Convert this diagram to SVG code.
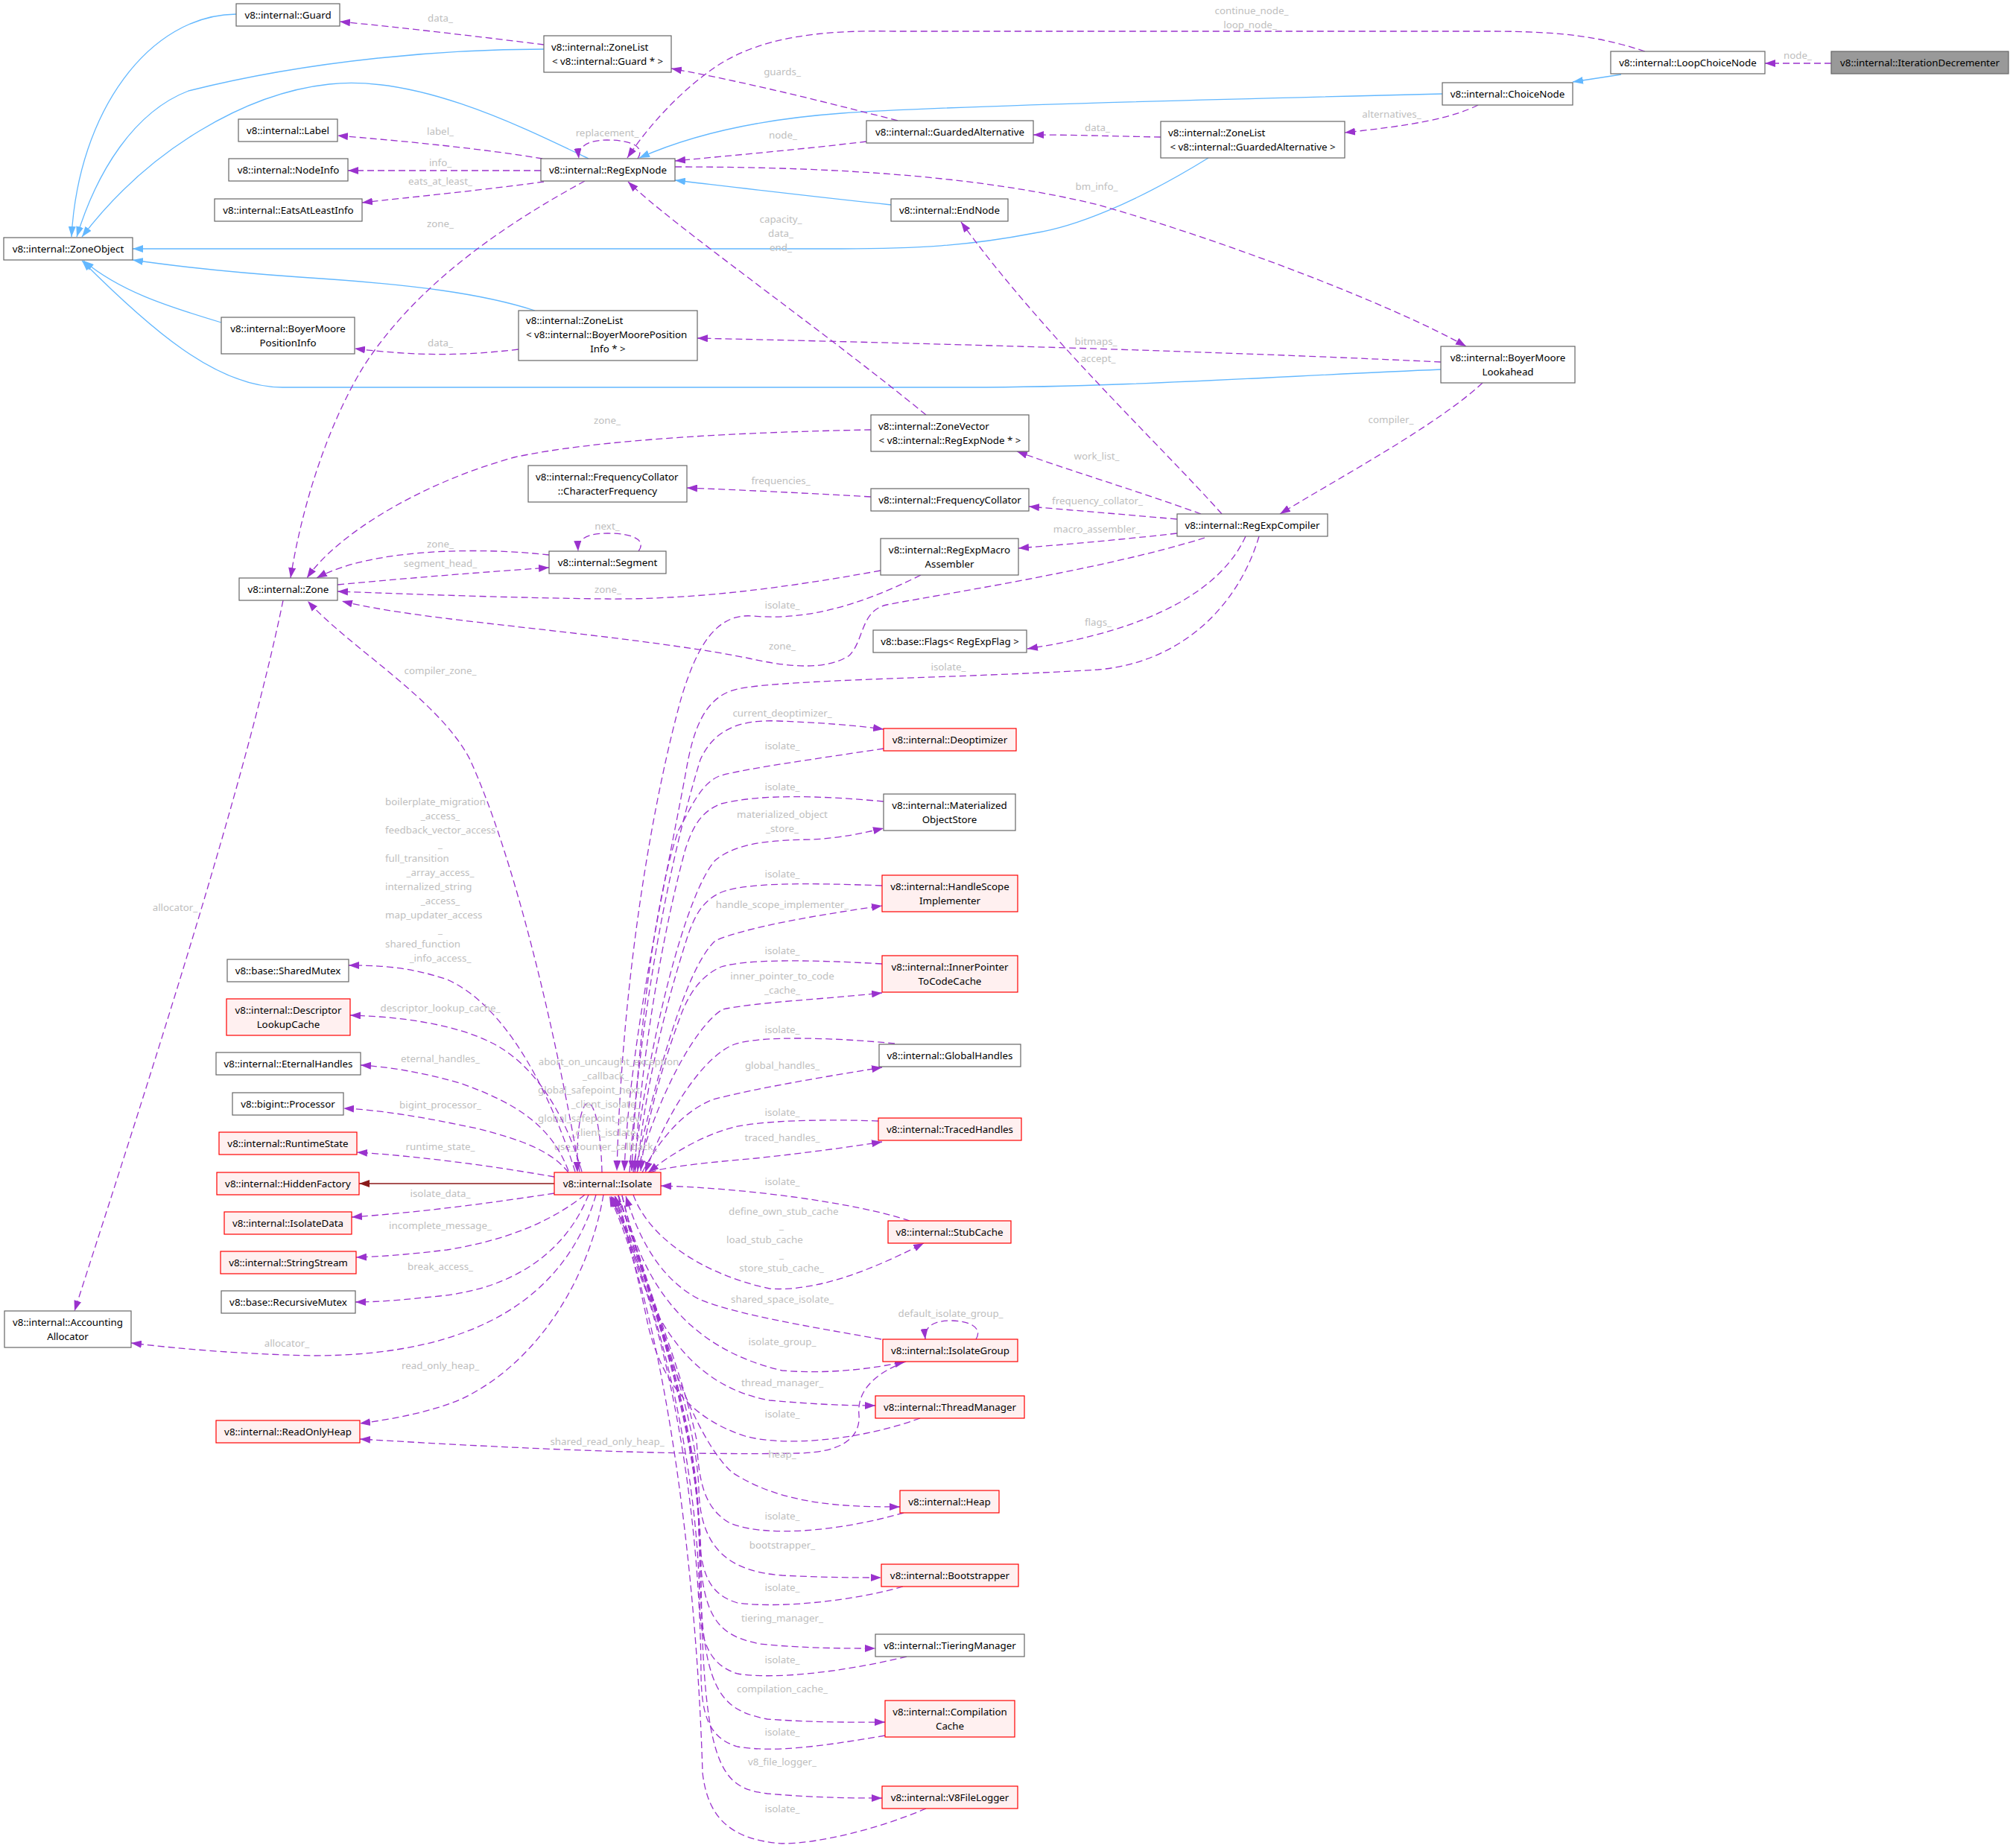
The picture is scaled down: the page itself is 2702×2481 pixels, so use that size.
<svg xmlns="http://www.w3.org/2000/svg" width="2702" height="2481" viewBox="0 0 2702 2481">
<style>
text{font-family:"Noto Sans","Liberation Sans",sans-serif;font-size:13.33px}
.n rect{fill:#ffffff;stroke:#666666;stroke-width:1.2}
.r rect{fill:#fff0f0;stroke:#ff0000;stroke-width:1.2}
.g rect{fill:#999999;stroke:#666666;stroke-width:1.2}
.n text,.r text,.g text{fill:#000000}
.c{text-anchor:middle}
.l{fill:#bebebe;text-anchor:middle}
.ll{fill:#bebebe;text-anchor:start}
.e{fill:none;stroke:#9a32cd;stroke-width:1.3;stroke-dasharray:9,5;marker-end:url(#ap)}
.i{fill:none;stroke:#63b8ff;stroke-width:1.3;marker-end:url(#ab)}
.d{fill:none;stroke:#8b1a1a;stroke-width:1.3;marker-end:url(#ad)}
</style>
<defs>
<marker id="ap" markerUnits="userSpaceOnUse" markerWidth="14" markerHeight="10" refX="14" refY="5" orient="auto"><path d="M0,0 L14,5 L0,10 z" fill="#9a32cd"/></marker>
<marker id="ab" markerUnits="userSpaceOnUse" markerWidth="14" markerHeight="10" refX="14" refY="5" orient="auto"><path d="M0,0 L14,5 L0,10 z" fill="#63b8ff"/></marker>
<marker id="ad" markerUnits="userSpaceOnUse" markerWidth="14" markerHeight="10" refX="14" refY="5" orient="auto"><path d="M0,0 L14,5 L0,10 z" fill="#8b1a1a"/></marker>
</defs>
<rect width="2702" height="2481" fill="#ffffff"/>
<g id="connectors">
<path class="i" d="M317,19 C200,20 105,150 96,318"/>
<path class="i" d="M730,66 C600,66 420,80 253,122 C180,150 130,230 103,318"/>
<path class="i" d="M790,213 C700,170 560,100 442,113 C330,125 200,200 110,318"/>
<path class="i" d="M1196,275 C1100,265 1000,253 906,242"/>
<path class="i" d="M1936,126 C1600,134 1250,143 1130,152 C1020,160 930,180 858,212"/>
<path class="i" d="M2176,100 L2111,110"/>
<path class="i" d="M1622,212 C1520,275 1440,305 1388,313 C1300,330 1230,334 1130,334 L178,334"/>
<path class="i" d="M718,417 C650,395 560,382 402,372 C300,365 240,358 178,349"/>
<path class="i" d="M297,433 C220,410 160,390 112,350"/>
<path class="i" d="M1934,496 C1700,506 1500,520 1300,520 L379,520 C290,520 200,440 110,350"/>
<path class="d" d="M744,1589 L482,1589"/>

<path class="e" d="M730,60 C650,50 540,37 456,29"/>
<text class="l" x="591" y="28.5">data_</text>
<path class="e" d="M1205,162 C1100,135 1000,110 901,92"/>
<text class="l" x="1050" y="100.5">guards_</text>
<path class="e" d="M728,213 C650,200 550,190 453,182"/>
<text class="l" x="591" y="180.5">label_</text>
<path class="e" d="M726,229 L467,229"/>
<text class="l" x="591" y="222.5">info_</text>
<path class="e" d="M730,244 C650,255 550,265 486,272"/>
<text class="l" x="591" y="247.5">eats_at_least_</text>
<path class="e" d="M856,213 C866,198 850,188 815,188 C790,188 775,196 777,213"/>
<text class="l" x="815" y="182.5">replacement_</text>
<path class="e" d="M2208,69 C2150,50 2100,42 2000,42 L1200,42 C1100,40 1020,50 960,90 C910,125 870,170 842,212"/>
<text class="l" x="1680" y="18.5">continue_node_</text>
<text class="l" x="1678" y="37.5">loop_node_</text>
<path class="e" d="M1163,190 C1080,200 990,208 906,216"/>
<text class="l" x="1051" y="185.5">node_</text>
<path class="e" d="M1558,184 C1500,183 1440,181 1387,181"/>
<text class="l" x="1473" y="175.5">data_</text>
<path class="e" d="M1984,141 C1950,158 1900,168 1805,178"/>
<text class="l" x="1868" y="157.5">alternatives_</text>
<path class="e" d="M2458,85 L2369,85"/>
<text class="l" x="2413" y="78.5">node_</text>
<path class="e" d="M906,224 C1150,224 1330,240 1474,275 C1650,325 1870,410 1968,465"/>
<text class="l" x="1472" y="254.5">bm_info_</text>
<path class="e" d="M785,243 C680,300 560,380 488,492 C440,570 405,680 390,776"/>
<text class="l" x="591" y="304.5">zone_</text>
<path class="e" d="M696,469 C620,478 560,478 476,468"/>
<text class="l" x="591" y="464.5">data_</text>
<path class="e" d="M1934,486 C1600,470 1200,460 936,454"/>
<text class="l" x="1471" y="462.5">bitmaps_</text>
<path class="e" d="M1990,514 C1930,570 1800,640 1718,690"/>
<text class="l" x="1867" y="567.5">compiler_</text>
<path class="e" d="M1243,557 C1100,440 900,300 843,244"/>
<text class="l" x="1048" y="298.5">capacity_</text>
<text class="l" x="1048" y="317.5">data_</text>
<text class="l" x="1048" y="336.5">end_</text>
<path class="e" d="M1640,690 C1560,600 1400,450 1290,298"/>
<text class="l" x="1474" y="485.5">accept_</text>
<path class="e" d="M1169,577 C1000,580 800,590 690,614 C560,650 450,720 412,776"/>
<text class="l" x="815" y="568.5">zone_</text>
<path class="e" d="M1612,690 C1530,660 1430,630 1365,606"/>
<text class="l" x="1472" y="616.5">work_list_</text>
<path class="e" d="M1169,667 C1080,662 1000,658 922,655"/>
<text class="l" x="1048" y="649.5">frequencies_</text>
<path class="e" d="M1580,697 C1500,690 1440,685 1381,680"/>
<text class="l" x="1473" y="676.5">frequency_collator_</text>
<path class="e" d="M1580,716 C1500,725 1440,730 1367,736"/>
<text class="l" x="1472" y="714.5">macro_assembler_</text>
<path class="e" d="M737,745 C650,735 500,735 425,776"/>
<text class="l" x="591" y="734.5">zone_</text>
<path class="e" d="M453,785 C560,775 650,768 737,762"/>
<text class="l" x="591" y="760.5">segment_head_</text>
<path class="e" d="M857,740 C868,725 850,716 816,716 C790,716 775,722 776,740"/>
<text class="l" x="815" y="710.5">next_</text>
<path class="e" d="M1182,766 C1050,790 930,805 815,804 C700,803 560,798 453,794"/>
<text class="l" x="816" y="795.5">zone_</text>
<path class="e" d="M1617,722 C1480,765 1250,800 1190,812 C1155,820 1160,860 1140,880 C1110,900 1060,896 1006,884 C900,862 700,843 597,830 C540,823 490,815 459,807"/>
<text class="l" x="1050" y="871.5">zone_</text>
<path class="e" d="M1672,720 C1640,790 1550,845 1379,871"/>
<text class="l" x="1474" y="839.5">flags_</text>
<path class="e" d="M1690,720 C1660,820 1580,890 1474,899 C1300,910 1050,912 990,925 C945,935 930,980 920,1040 C890,1200 845,1400 838,1572"/>
<text class="l" x="1273" y="899.5">isolate_</text>
<path class="e" d="M1236,772 C1150,815 1080,833 1010,827 C960,823 935,870 915,935 C880,1060 835,1300 828,1572"/>
<text class="l" x="1050" y="816.5">isolate_</text>
<path class="e" d="M380,806 C330,1050 200,1450 100,1760"/>
<text class="l" x="235" y="1222.5">allocator_</text>

<path class="e" d="M845,1574 C860,1350 900,1150 940,1020 C960,975 1000,966 1045,968 C1100,970 1150,974 1186,979"/>
<text class="l" x="1050" y="961.5">current_deoptimizer_</text>
<path class="e" d="M1186,1005 C1100,1018 1000,1032 968,1041 C940,1050 925,1090 911,1114 C880,1200 855,1400 848,1572"/>
<text class="l" x="1050" y="1005.5">isolate_</text>
<path class="e" d="M1186,1076 C1100,1068 1020,1066 968,1079 C940,1090 930,1110 920,1140 C890,1250 860,1420 852,1572"/>
<text class="l" x="1050" y="1060.5">isolate_</text>
<path class="e" d="M850,1574 C870,1400 920,1200 960,1155 C990,1130 1040,1128 1090,1127 C1130,1125 1160,1118 1186,1112"/>
<text class="l" x="1050" y="1097.5">materialized_object</text>
<text class="l" x="1050" y="1116.5">_store_</text>
<path class="e" d="M1184,1189 C1080,1185 1000,1185 968,1198 C940,1210 930,1236 922,1260 C890,1360 862,1480 856,1572"/>
<text class="l" x="1050" y="1177.5">isolate_</text>
<path class="e" d="M852,1574 C880,1450 920,1300 960,1263 C1000,1245 1100,1228 1184,1216"/>
<text class="l" x="1050" y="1218.5">handle_scope_implementer_</text>
<path class="e" d="M1184,1294 C1080,1288 1000,1288 968,1298 C940,1310 925,1335 915,1360 C885,1440 865,1520 860,1572"/>
<text class="l" x="1050" y="1280.5">isolate_</text>
<path class="e" d="M855,1574 C880,1480 930,1380 970,1355 C1020,1345 1100,1342 1184,1333"/>
<text class="l" x="1050" y="1314.5">inner_pointer_to_code</text>
<text class="l" x="1050" y="1333.5">_cache_</text>
<path class="e" d="M1201,1401 C1120,1393 1020,1390 986,1402 C950,1415 900,1480 866,1574"/>
<text class="l" x="1050" y="1386.5">isolate_</text>
<path class="e" d="M862,1574 C880,1540 910,1495 957,1476 C1020,1460 1110,1445 1184,1433"/>
<text class="l" x="1050" y="1434.5">global_handles_</text>
<path class="e" d="M1179,1505 C1100,1502 1020,1505 986,1513 C940,1525 900,1550 870,1574"/>
<text class="l" x="1050" y="1497.5">isolate_</text>
<path class="e" d="M872,1574 C900,1565 960,1560 1015,1555 C1080,1548 1140,1540 1184,1533"/>
<text class="l" x="1050" y="1531.5">traced_handles_</text>
<path class="e" d="M1221,1639 C1150,1615 1000,1595 887,1592"/>
<text class="l" x="1050" y="1590.5">isolate_</text>
<path class="e" d="M850,1604 C870,1660 940,1710 1033,1730 C1100,1735 1180,1700 1240,1669"/>
<text class="ll" x="978" y="1630.5">define_own_stub_cache</text>
<text class="l" x="1049" y="1649.5">_</text>
<text class="ll" x="975" y="1668.5">load_stub_cache</text>
<text class="l" x="1049" y="1688.5">_</text>
<text class="l" x="1049" y="1706.5">store_stub_cache_</text>
<path class="e" d="M1183,1798 C1080,1780 990,1765 940,1745 C890,1720 860,1670 840,1606"/>
<text class="l" x="1050" y="1748.5">shared_space_isolate_</text>
<path class="e" d="M835,1605 C860,1720 920,1810 1050,1840 C1110,1845 1170,1838 1215,1828"/>
<text class="l" x="1050" y="1805.5">isolate_group_</text>
<path class="e" d="M1310,1798 C1320,1782 1300,1773 1276,1773 C1255,1773 1240,1780 1242,1798"/>
<text class="l" x="1276" y="1767.5">default_isolate_group_</text>
<path class="e" d="M1216,1828 C1170,1845 1150,1870 1153,1900 C1155,1930 1130,1950 1072,1951 C900,1954 700,1945 483,1932"/>
<text class="l" x="815" y="1939.5">shared_read_only_heap_</text>
<path class="e" d="M830,1605 C860,1760 920,1860 1033,1880 C1090,1885 1130,1887 1175,1887"/>
<text class="l" x="1050" y="1860.5">thread_manager_</text>
<path class="e" d="M1235,1904 C1150,1935 1050,1942 1000,1928 C930,1905 890,1860 870,1780 C858,1720 840,1650 826,1606"/>
<text class="l" x="1050" y="1902.5">isolate_</text>
<path class="e" d="M835,1605 C880,1780 930,1930 983,1977 C1050,2020 1130,2023 1208,2023"/>
<text class="l" x="1050" y="1956.5">heap_</text>
<path class="e" d="M1213,2031 C1130,2055 1030,2065 980,2045 C945,2025 938,1990 935,1933 C920,1860 880,1750 825,1606"/>
<text class="l" x="1050" y="2039.5">isolate_</text>
<path class="e" d="M830,1605 C880,1760 935,1900 938,2000 C940,2080 980,2110 1050,2115 C1110,2118 1150,2118 1183,2118"/>
<text class="l" x="1050" y="2078.5">bootstrapper_</text>
<path class="e" d="M1212,2130 C1150,2148 1050,2160 990,2152 C950,2140 940,2110 938,2050 C937,1960 890,1760 822,1606"/>
<text class="l" x="1050" y="2135.5">isolate_</text>
<path class="e" d="M830,1605 C885,1770 937,1920 938,2050 C940,2170 960,2195 1020,2207 C1080,2213 1130,2213 1175,2213"/>
<text class="l" x="1050" y="2176.5">tiering_manager_</text>
<path class="e" d="M1217,2224 C1130,2245 1040,2255 990,2247 C950,2235 940,2200 939,2150 C937,1980 890,1760 820,1606"/>
<text class="l" x="1050" y="2232.5">isolate_</text>
<path class="e" d="M830,1605 C885,1770 938,1930 939,2080 C940,2270 965,2295 1030,2308 C1100,2313 1150,2312 1188,2312"/>
<text class="l" x="1050" y="2271.5">compilation_cache_</text>
<path class="e" d="M1188,2330 C1100,2345 1040,2353 990,2345 C950,2333 942,2300 941,2250 C940,2000 890,1760 820,1606"/>
<text class="l" x="1050" y="2329.5">isolate_</text>
<path class="e" d="M830,1605 C888,1770 940,1930 941,2100 C942,2380 970,2400 1030,2408 C1100,2414 1150,2414 1184,2414"/>
<text class="l" x="1050" y="2369.5">v8_file_logger_</text>
<path class="e" d="M1243,2428 C1180,2455 1100,2475 1050,2475 C980,2470 950,2440 943,2380 C935,2100 890,1760 818,1606"/>
<text class="l" x="1050" y="2432.5">isolate_</text>

<path class="e" d="M808,1574 C805,1450 772,1450 775,1574"/>
<text class="l" x="817" y="1429.5">abort_on_uncaught_exception</text>
<text class="l" x="813" y="1448.5">_callback_</text>
<text class="ll" x="722" y="1467.5">global_safepoint_next</text>
<text class="l" x="813" y="1486.5">_client_isolate_</text>
<text class="ll" x="722" y="1505.5">global_safepoint_prev</text>
<text class="l" x="813" y="1524.5">_client_isolate_</text>
<text class="l" x="813" y="1543.5">use_counter_callback_</text>

<path class="e" d="M778,1573 C745,1380 690,1150 631,1020 C590,940 470,870 413,807"/>
<text class="l" x="591" y="904.5">compiler_zone_</text>
<path class="e" d="M772,1573 C740,1470 680,1350 600,1315 C550,1298 510,1296 468,1296"/>
<text class="ll" x="517" y="1080.5">boilerplate_migration</text>
<text class="l" x="591" y="1099.5">_access_</text>
<text class="ll" x="517" y="1118.5">feedback_vector_access</text>
<text class="l" x="591" y="1137.5">_</text>
<text class="ll" x="517" y="1156.5">full_transition</text>
<text class="l" x="591" y="1175.5">_array_access_</text>
<text class="ll" x="517" y="1194.5">internalized_string</text>
<text class="l" x="591" y="1213.5">_access_</text>
<text class="ll" x="517" y="1232.5">map_updater_access</text>
<text class="l" x="591" y="1252.5">_</text>
<text class="ll" x="517" y="1271.5">shared_function</text>
<text class="l" x="591" y="1290.5">_info_access_</text>
<path class="e" d="M781,1573 C760,1500 720,1430 660,1400 C610,1375 540,1365 470,1363"/>
<text class="l" x="591" y="1357.5">descriptor_lookup_cache_</text>
<path class="e" d="M763,1572 C740,1510 690,1480 620,1455 C570,1440 520,1432 484,1430"/>
<text class="l" x="591" y="1425.5">eternal_handles_</text>
<path class="e" d="M763,1574 C740,1545 700,1530 640,1515 C570,1500 510,1490 461,1488"/>
<text class="l" x="591" y="1487.5">bigint_processor_</text>
<path class="e" d="M744,1580 C660,1565 560,1552 479,1547"/>
<text class="l" x="591" y="1543.5">runtime_state_</text>
<path class="e" d="M744,1602 C660,1615 560,1628 472,1634"/>
<text class="l" x="591" y="1606.5">isolate_data_</text>
<path class="e" d="M785,1604 C740,1640 680,1665 600,1678 C540,1685 510,1687 478,1688"/>
<text class="l" x="591" y="1649.5">incomplete_message_</text>
<path class="e" d="M790,1604 C760,1680 690,1730 590,1740 C540,1745 510,1748 477,1748"/>
<text class="l" x="591" y="1704.5">break_access_</text>
<path class="e" d="M800,1604 C760,1740 640,1820 420,1820 C330,1818 250,1812 176,1803"/>
<text class="l" x="385" y="1807.5">allocator_</text>
<path class="e" d="M810,1604 C790,1720 720,1830 620,1878 C580,1895 530,1905 483,1911"/>
<text class="l" x="591" y="1837.5">read_only_heap_</text>
</g>

<g id="n_guard" class="n"><rect x="317" y="5" width="139" height="30"/><text class="c" x="386.5" y="24.7">v8::internal::Guard</text></g>
<g id="n_zlguard" class="n"><rect x="730" y="48" width="171" height="49"/><text x="740" y="67.7">v8::internal::ZoneList</text><text class="c" x="815.5" y="86.7">&lt; v8::internal::Guard * &gt;</text></g>
<g id="n_label" class="n"><rect x="320" y="160" width="133" height="30"/><text class="c" x="386.5" y="179.7">v8::internal::Label</text></g>
<g id="n_nodeinfo" class="n"><rect x="307" y="213" width="160" height="30"/><text class="c" x="387" y="232.7">v8::internal::NodeInfo</text></g>
<g id="n_eats" class="n"><rect x="288" y="267" width="198" height="30"/><text class="c" x="387" y="286.7">v8::internal::EatsAtLeastInfo</text></g>
<g id="n_regexpnode" class="n"><rect x="726" y="213" width="180" height="30"/><text class="c" x="816" y="232.7">v8::internal::RegExpNode</text></g>
<g id="n_zoneobject" class="n"><rect x="5" y="319" width="173" height="30"/><text class="c" x="91.5" y="338.7">v8::internal::ZoneObject</text></g>
<g id="n_bmpi" class="n"><rect x="297" y="426" width="179" height="49"/><text class="c" x="386.5" y="445.7">v8::internal::BoyerMoore</text><text class="c" x="386.5" y="464.7">PositionInfo</text></g>
<g id="n_zlbmpi" class="n"><rect x="696" y="417" width="240" height="67"/><text x="706" y="435">v8::internal::ZoneList</text><text x="706" y="454">&lt; v8::internal::BoyerMoorePosition</text><text class="c" x="816" y="473">Info * &gt;</text></g>
<g id="n_charfreq" class="n"><rect x="709" y="625" width="213" height="49"/><text x="719" y="644.7">v8::internal::FrequencyCollator</text><text class="c" x="815.5" y="663.7">::CharacterFrequency</text></g>
<g id="n_segment" class="n"><rect x="737" y="740" width="157" height="30"/><text class="c" x="815.5" y="759.7">v8::internal::Segment</text></g>
<g id="n_zone" class="n"><rect x="321" y="776" width="132" height="30"/><text class="c" x="387" y="795.7">v8::internal::Zone</text></g>
<g id="n_ga" class="n"><rect x="1163" y="162" width="224" height="30"/><text class="c" x="1275" y="181.7">v8::internal::GuardedAlternative</text></g>
<g id="n_zlga" class="n"><rect x="1558" y="163" width="247" height="49"/><text x="1568" y="182.7">v8::internal::ZoneList</text><text class="c" x="1681.5" y="201.7">&lt; v8::internal::GuardedAlternative &gt;</text></g>
<g id="n_endnode" class="n"><rect x="1196" y="267" width="157" height="30"/><text class="c" x="1274.5" y="286.7">v8::internal::EndNode</text></g>
<g id="n_zonevector" class="n"><rect x="1169" y="557" width="212" height="49"/><text x="1179" y="576.7">v8::internal::ZoneVector</text><text class="c" x="1275" y="595.7">&lt; v8::internal::RegExpNode * &gt;</text></g>
<g id="n_freqcoll" class="n"><rect x="1169" y="656" width="212" height="30"/><text class="c" x="1275" y="675.7">v8::internal::FrequencyCollator</text></g>
<g id="n_rma" class="n"><rect x="1182" y="723" width="185" height="49"/><text class="c" x="1274.5" y="742.7">v8::internal::RegExpMacro</text><text class="c" x="1274.5" y="761.7">Assembler</text></g>
<g id="n_rc" class="n"><rect x="1580" y="690" width="202" height="30"/><text class="c" x="1681" y="709.7">v8::internal::RegExpCompiler</text></g>
<g id="n_lcn" class="n"><rect x="2162" y="69" width="207" height="30"/><text class="c" x="2265.5" y="88.7">v8::internal::LoopChoiceNode</text></g>
<g id="n_iterdec" class="g"><rect x="2458" y="69" width="238" height="30"/><text class="c" x="2577" y="88.7">v8::internal::IterationDecrementer</text></g>
<g id="n_choice" class="n"><rect x="1936" y="111" width="175" height="30"/><text class="c" x="2023.5" y="130.7">v8::internal::ChoiceNode</text></g>
<g id="n_bml" class="n"><rect x="1934" y="465" width="180" height="49"/><text class="c" x="2024" y="484.7">v8::internal::BoyerMoore</text><text class="c" x="2024" y="503.7">Lookahead</text></g>
<g id="n_sharedmutex" class="n"><rect x="305" y="1288" width="163" height="30"/><text class="c" x="386.5" y="1307.7">v8::base::SharedMutex</text></g>
<g id="n_dlc" class="r"><rect x="304" y="1341" width="166" height="49"/><text class="c" x="387" y="1360.7">v8::internal::Descriptor</text><text class="c" x="387" y="1379.7">LookupCache</text></g>
<g id="n_eternal" class="n"><rect x="290" y="1413" width="194" height="30"/><text class="c" x="387" y="1432.7">v8::internal::EternalHandles</text></g>
<g id="n_processor" class="n"><rect x="312" y="1467" width="149" height="30"/><text class="c" x="386.5" y="1486.7">v8::bigint::Processor</text></g>
<g id="n_runtimestate" class="r"><rect x="294" y="1520" width="185" height="30"/><text class="c" x="386.5" y="1539.7">v8::internal::RuntimeState</text></g>
<g id="n_hiddenfactory" class="r"><rect x="291" y="1574" width="191" height="30"/><text class="c" x="386.5" y="1593.7">v8::internal::HiddenFactory</text></g>
<g id="n_isolate" class="r"><rect x="744" y="1574" width="143" height="30"/><text class="c" x="815.5" y="1593.7">v8::internal::Isolate</text></g>
<g id="n_isolatedata" class="r"><rect x="301" y="1627" width="171" height="30"/><text class="c" x="386.5" y="1646.7">v8::internal::IsolateData</text></g>
<g id="n_flags" class="n"><rect x="1172" y="846" width="206" height="30"/><text class="c" x="1275" y="865.7">v8::base::Flags&lt; RegExpFlag &gt;</text></g>
<g id="n_deopt" class="r"><rect x="1186" y="978" width="178" height="30"/><text class="c" x="1275" y="997.7">v8::internal::Deoptimizer</text></g>
<g id="n_mos" class="n"><rect x="1186" y="1066" width="177" height="49"/><text class="c" x="1274.5" y="1085.7">v8::internal::Materialized</text><text class="c" x="1274.5" y="1104.7">ObjectStore</text></g>
<g id="n_hsi" class="r"><rect x="1184" y="1175" width="182" height="49"/><text class="c" x="1275" y="1194.7">v8::internal::HandleScope</text><text class="c" x="1275" y="1213.7">Implementer</text></g>
<g id="n_ipcc" class="r"><rect x="1184" y="1283" width="182" height="49"/><text class="c" x="1275" y="1302.7">v8::internal::InnerPointer</text><text class="c" x="1275" y="1321.7">ToCodeCache</text></g>
<g id="n_gh" class="n"><rect x="1180" y="1402" width="190" height="30"/><text class="c" x="1275" y="1421.7">v8::internal::GlobalHandles</text></g>
<g id="n_th" class="r"><rect x="1179" y="1501" width="192" height="30"/><text class="c" x="1275" y="1520.7">v8::internal::TracedHandles</text></g>
<g id="n_stubcache" class="r"><rect x="1192" y="1639" width="165" height="30"/><text class="c" x="1274.5" y="1658.7">v8::internal::StubCache</text></g>
<g id="n_stringstream" class="r"><rect x="296" y="1680" width="182" height="30"/><text class="c" x="387" y="1699.7">v8::internal::StringStream</text></g>
<g id="n_recmutex" class="n"><rect x="297" y="1733" width="180" height="30"/><text class="c" x="387" y="1752.7">v8::base::RecursiveMutex</text></g>
<g id="n_accalloc" class="n"><rect x="6" y="1760" width="170" height="49"/><text class="c" x="91" y="1779.7">v8::internal::Accounting</text><text class="c" x="91" y="1798.7">Allocator</text></g>
<g id="n_roheap" class="r"><rect x="290" y="1907" width="193" height="30"/><text class="c" x="386.5" y="1926.7">v8::internal::ReadOnlyHeap</text></g>
<g id="n_isogroup" class="r"><rect x="1185" y="1798" width="181" height="30"/><text class="c" x="1275.5" y="1817.7">v8::internal::IsolateGroup</text></g>
<g id="n_threadmgr" class="r"><rect x="1175" y="1874" width="200" height="30"/><text class="c" x="1275" y="1893.7">v8::internal::ThreadManager</text></g>
<g id="n_heap" class="r"><rect x="1208" y="2001" width="133" height="30"/><text class="c" x="1274.5" y="2020.7">v8::internal::Heap</text></g>
<g id="n_bootstrapper" class="r"><rect x="1183" y="2100" width="184" height="30"/><text class="c" x="1275" y="2119.7">v8::internal::Bootstrapper</text></g>
<g id="n_tiering" class="n"><rect x="1175" y="2194" width="200" height="30"/><text class="c" x="1275" y="2213.7">v8::internal::TieringManager</text></g>
<g id="n_compcache" class="r"><rect x="1188" y="2283" width="174" height="49"/><text class="c" x="1275" y="2302.7">v8::internal::Compilation</text><text class="c" x="1275" y="2321.7">Cache</text></g>
<g id="n_v8fl" class="r"><rect x="1184" y="2398" width="182" height="30"/><text class="c" x="1275" y="2417.7">v8::internal::V8FileLogger</text></g>
</svg>
